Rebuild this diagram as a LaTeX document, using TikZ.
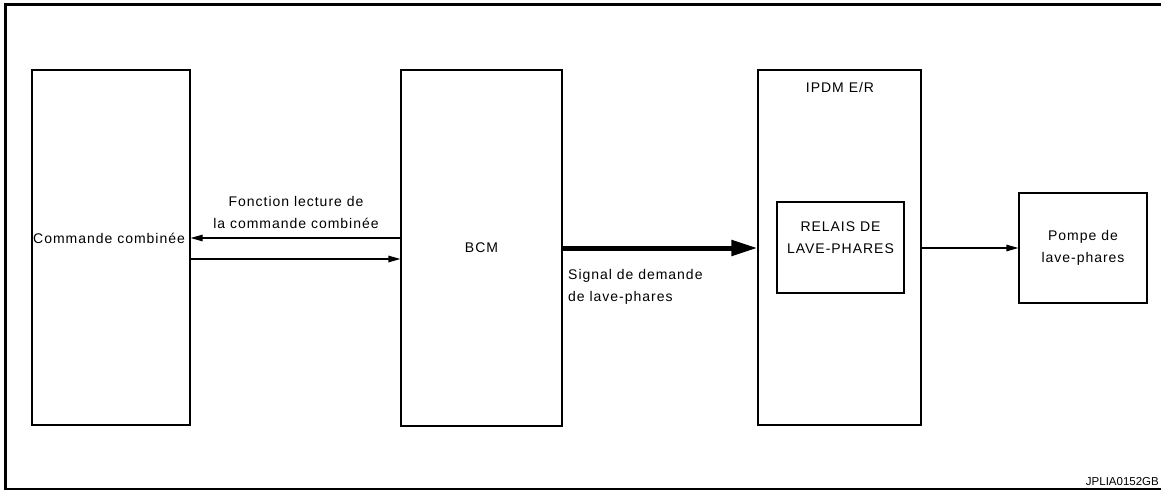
\documentclass[tikz,border=0pt]{standalone}
\usepackage{fontspec}
\setmainfont{Liberation Sans}
\newfontfamily\lblfont{Liberation Sans}[LetterSpace=7]
\usetikzlibrary{arrows.meta}
\begin{document}
\begin{tikzpicture}[x=1pt,y=1pt,
  blk/.style={draw, line width=1.2pt, inner sep=0pt},
  lbl/.style={font=\lblfont\fontsize{14}{22}\selectfont, inner sep=0pt, align=center},
  arr/.style={line width=1.2pt, -{Triangle[length=12pt,width=6.5pt]}},
  bigarr/.style={line width=5pt, -{Triangle[length=26pt,width=15pt]}},
  frameline/.style={line width=2.6pt}]
\useasboundingbox (0,0) rectangle (1161,-492);
\fill[white] (0,0) rectangle (1161,-492);
\draw[frameline] (1165,-4.5) -- (5.5,-4.5) -- (5.5,-489) -- (1165,-489);

\node[blk, minimum width=158pt, minimum height=355pt] (cmd) at (111,-247.5) {};
\node[blk, lbl, minimum width=161pt, minimum height=356pt] (bcm) at (481.5,-248) {BCM};
\node[blk, minimum width=163pt, minimum height=355pt] (ipdm) at (839.5,-247.5) {};
\node[blk, minimum width=127pt, minimum height=91pt] (relais) at (840.5,-247.5) {};
\node[blk, lbl, minimum width=128pt, minimum height=110pt] (pompe) at (1083,-248) {Pompe de\\lave-phares};

\node[lbl, anchor=base west] (cmdt) at (33,-243) {Commande combinée};
\node[lbl] (fonct) at (296,-212) {Fonction lecture de\\la commande combinée};
\node[lbl, align=left, anchor=west] (signal) at (568,-287) {Signal de demande\\de lave-phares};
\node[lbl] (ipdmt) at (840,-87) {IPDM E/R};
\node[lbl] (relaist) at (840.5,-238) {RELAIS DE\\LAVE-PHARES};
\node[font=\fontsize{11.5}{13}\selectfont, inner sep=0pt, anchor=east] (ref) at (1159,-481.5) {JPLIA0152GB};

\coordinate (yA) at (0,-238);
\coordinate (yB) at (0,-259);
\draw[arr] (bcm.west |- yA) -- (cmd.east |- yA);
\draw[arr] (cmd.east |- yB) -- (bcm.west |- yB);
\draw[bigarr] (bcm.east) -- (ipdm.west |- bcm.east);
\draw[arr] (ipdm.east |- pompe.west) -- (pompe.west);
\end{tikzpicture}
\end{document}
